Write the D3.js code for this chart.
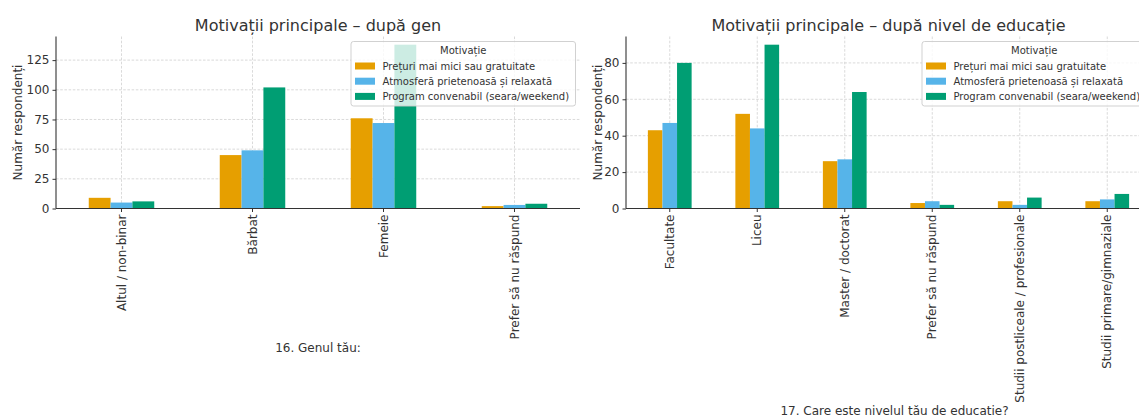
<!DOCTYPE html>
<html>
<head>
<meta charset="utf-8">
<script src="https://cdn.jsdelivr.net/npm/d3@7"></script>
<style>
  html, body { margin: 0; padding: 0; background: #fff; }
  svg { display: block; font-family: "DejaVu Sans", sans-serif; }
</style>
</head>
<body>
<svg id="chart" width="1139" height="416"></svg>
<script>
// ---- Data ----
const motivations = [
  "Prețuri mai mici sau gratuitate",
  "Atmosferă prietenoasă și relaxată",
  "Program convenabil (seara/weekend)"
];
const colors = ["#E69F00", "#56B4E9", "#009E73"];

const genderCats = ["Altul / non-binar", "Bărbat", "Femeie", "Prefer să nu răspund"];
const genderPrices = [9, 45, 76, 2];
const genderAtmos = [5, 49, 72, 3];
const genderSchedule = [6, 102, 138, 4];
const genderTicks = [0, 25, 50, 75, 100, 125];

const eduCats = ["Facultate", "Liceu", "Master / doctorat", "Prefer să nu răspund",
  "Studii postliceale / profesionale", "Studii primare/gimnaziale"];
const eduPrices = [43, 52, 26, 3, 4, 4];
const eduAtmos = [47, 44, 27, 4, 2, 5];
const eduSchedule = [80, 90, 64, 2, 6, 8];
const eduTicks = [0, 20, 40, 60, 80];

const svg = d3.select("#chart");

function drawPanel(opt) {
  const { cats, series, ticks, left, right, top, bottom, title, xTitle, xTitleY, xTitleDx, yLabelX } = opt;
  const g = svg.append("g");
  const maxV = d3.max(series.flat());
  const x = d3.scaleBand().domain(cats).range([left, right]).paddingInner(0).paddingOuter(0);
  const bw = x.bandwidth();
  const xi = d3.scaleBand().domain(d3.range(series.length)).range([-bw * 0.25, bw * 0.25]);
  const y = d3.scaleLinear().domain([0, maxV * 1.05]).range([bottom, top]);

  // grid
  const grid = g.append("g").attr("stroke", "#d0d0d0").attr("stroke-width", 0.8).attr("stroke-dasharray", "2.6,1.6");
  grid.selectAll("line.h").data(ticks).join("line")
    .attr("x1", left).attr("x2", right).attr("y1", d => y(d)).attr("y2", d => y(d));
  grid.selectAll("line.v").data(cats).join("line")
    .attr("x1", d => x(d) + bw / 2).attr("x2", d => x(d) + bw / 2).attr("y1", top).attr("y2", bottom);

  // bars
  series.forEach((vals, si) => {
    g.append("g").selectAll("rect").data(cats).join("rect")
      .attr("x", (c) => x(c) + bw / 2 + xi(si))
      .attr("width", xi.bandwidth())
      .attr("y", (c, i) => y(vals[i]))
      .attr("height", (c, i) => bottom - y(vals[i]))
      .attr("fill", colors[si]);
  });

  // axes
  const yAxis = g.append("g").attr("transform", `translate(${left},0)`)
    .call(d3.axisLeft(y).tickValues(ticks).tickSize(3.5).tickPadding(3));
  yAxis.select(".domain").attr("stroke", "#333").attr("stroke-width", 1.1)
    .attr("d", `M0,${top}V${bottom}`);
  yAxis.selectAll(".tick line").attr("stroke", "#333");
  yAxis.selectAll(".tick text").attr("fill", "#333").style("font-size", "12px")
    .style("font-family", "DejaVu Sans, sans-serif");

  const xAxis = g.append("g").attr("transform", `translate(0,${bottom})`)
    .call(d3.axisBottom(x).tickSize(3.5).tickPadding(0));
  xAxis.select(".domain").attr("stroke", "#333").attr("stroke-width", 1.1)
    .attr("d", `M${left},0H${right}`);
  xAxis.selectAll(".tick line").attr("stroke", "#333");
  xAxis.selectAll(".tick text")
    .attr("fill", "#333").style("font-size", "12px").style("font-family", "DejaVu Sans, sans-serif")
    .attr("transform", "rotate(-90)")
    .attr("text-anchor", "end")
    .attr("x", -6).attr("y", 0).attr("dy", "0.35em");

  // titles
  g.append("text").attr("x", (left + right) / 2).attr("y", 31)
    .attr("text-anchor", "middle").attr("fill", "#333").style("font-size", "16px").text(title);
  g.append("text").attr("x", (left + right) / 2 + xTitleDx).attr("y", xTitleY)
    .attr("text-anchor", "middle").attr("fill", "#333").style("font-size", "12px").text(xTitle);
  g.append("text").attr("transform", `translate(${yLabelX},${(top + bottom) / 2}) rotate(-90)`)
    .attr("text-anchor", "middle").attr("dy", "0.35em").attr("fill", "#333").style("font-size", "12px")
    .text("Număr respondenți");

  // legend
  const lw = 224.5, lh = 64.5;
  const lx = right - 4.5 - lw, ly = top + 5;
  const lg = g.append("g").attr("transform", `translate(${lx},${ly})`);
  lg.append("rect").attr("width", lw).attr("height", lh).attr("rx", 2.5)
    .attr("fill", "#fff").attr("fill-opacity", 0.8).attr("stroke", "#cccccc").attr("stroke-width", 0.9);
  lg.append("text").attr("x", lw / 2).attr("y", 8.5).attr("dy", "0.35em").attr("text-anchor", "middle")
    .attr("fill", "#333").style("font-size", "10px").text("Motivație");
  motivations.forEach((m, i) => {
    const cy = 24.5 + i * 15.2;
    lg.append("rect").attr("x", 4).attr("y", cy - 3.5).attr("width", 20).attr("height", 7).attr("fill", colors[i]);
    lg.append("text").attr("x", 31.5).attr("y", cy).attr("dy", "0.35em").attr("fill", "#333")
      .style("font-size", "10px").text(m);
  });
}

drawPanel({
  cats: genderCats,
  series: [genderPrices, genderAtmos, genderSchedule],
  ticks: genderTicks,
  left: 56, right: 580, top: 36.5, bottom: 208.5,
  title: "Motivații principale – după gen",
  xTitle: "16. Genul tău:", xTitleY: 351.5, xTitleDx: 0, yLabelX: 18
});

drawPanel({
  cats: eduCats,
  series: [eduPrices, eduAtmos, eduSchedule],
  ticks: eduTicks,
  left: 626, right: 1151, top: 36.5, bottom: 208.5,
  title: "Motivații principale – după nivel de educație",
  xTitle: "17. Care este nivelul tău de educatie?", xTitleY: 414.5, xTitleDx: 6, yLabelX: 598
});
</script>
</body>
</html>
